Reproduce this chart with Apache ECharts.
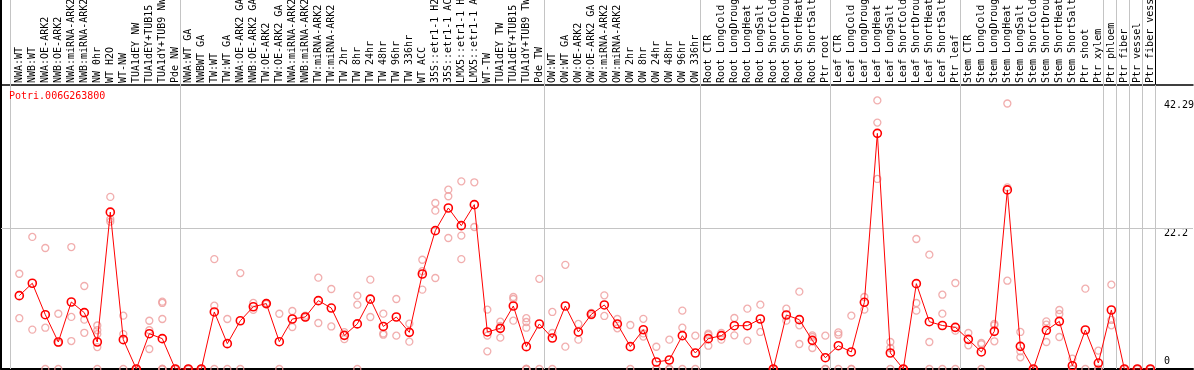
<!DOCTYPE html>
<html><head><meta charset="utf-8">
<script src="https://cdn.jsdelivr.net/npm/echarts@6/dist/echarts.min.js"></script>
<style>html,body{margin:0;padding:0;background:#fff}#c{width:1194px;height:370px}</style>
</head><body><div id="c"></div>
<script>
const geneId = 'Potri.006G263800';

const categories = [
  'NWA:WT','NWB:WT','NWA:OE-ARK2','NWB:OE-ARK2','NWA:miRNA-ARK2','NWB:miRNA-ARK2','NW 0hr','WT H2O','WT-NW',
  'TUA1dEY NW','TUA1dEY+TUB15','TUA1dY+TUB9 NW','Pde NW',
  'NWA:WT GA','NWBWT GA','TW:WT','TW:WT GA','NWA:OE-ARK2 GA','NWB:OE-ARK2 GA','TW:OE-ARK2','TW:OE-ARK2 GA',
  'NWA:miRNA-ARK2','NWB:miRNA-ARK2','TW:miRNA-ARK2','TW:miRNA-ARK2','TW 2hr','TW 8hr','TW 24hr','TW 48hr','TW 96hr',
  'TW 336hr','WT ACC','35S::etr1-1 H2O','35S::etr1-1 ACC','LMX5::etr1-1 H2O','LMX5::etr1-1 ACC','WT-TW','TUA1dEY TW',
  'TUA1dEY+TUB15','TUA1dY+TUB9 TW','Pde TW',
  'OW:WT','OW:WT GA','OW:OE-ARK2','OW:OE-ARK2 GA','OW:miRNA-ARK2','OW:miRNA-ARK2','OW 2hr','OW 8hr','OW 24hr','OW 48hr',
  'OW 96hr','OW 336hr',
  'Root CTR','Root LongCold','Root LongDrought','Root LongHeat','Root LongSalt','Root ShortCold','Root ShortDrought',
  'Root ShortHeat','Root ShortSalt','Ptr root',
  'Leaf CTR','Leaf LongCold','Leaf LongDrought','Leaf LongHeat','Leaf LongSalt','Leaf ShortCold','Leaf ShortDrought',
  'Leaf ShortHeat','Leaf ShortSalt','Ptr leaf',
  'Stem CTR','Stem LongCold','Stem LongDrought','Stem LongHeat','Stem LongSalt','Stem ShortCold','Stem ShortDrought',
  'Stem ShortHeat','Stem ShortSalt','Ptr shoot','Ptr xylem',
  'Ptr phloem','Ptr fiber','Ptr vessel','Ptr fiber vessel'
];

const meanValues = [
  11.55, 13.5, 8.55, 4.25, 10.55, 8.87, 4.25, 24.7, 4.62, 0, 5.56, 4.78, 0,
  0, 0, 8.98, 3.99, 7.6, 9.8, 10.3, 4.3, 7.87, 8.19, 10.76, 9.6, 5.3, 7.1, 11.0, 6.7, 8.19, 5.77,
  14.96, 21.78, 25.35, 22.57, 25.88, 5.83, 6.4, 9.92, 3.52, 7.09,
  4.88, 9.92, 5.83, 8.61, 10.08, 7.09, 3.52, 6.19, 1.1, 1.42, 5.25, 2.52,
  4.78, 5.25, 6.82, 6.82, 7.87, 0, 8.5, 7.77, 4.51, 1.78,
  3.67, 2.68, 10.5, 37.1, 2.52, 0, 13.44, 7.45, 6.85, 6.56,
  4.67, 2.68, 5.93, 28.2, 3.57, 0, 6.09, 7.5, 0.52, 6.14, 0.94,
  9.29, 0, 0, 0
];

const replicates = [
  [15.0, 8.0], [20.8, 6.2], [19.05, 6.5, 0], [8.7, 4.1, 0], [19.2, 8.2, 4.4], [13.07, 7.77, 5.7],
  [6.85, 6.1, 5.5, 3.46, 0], [27.1, 23.6, 23.2], [8.4, 5.5, 0], [0, 0, 0], [7.6, 6.1, 3.15],
  [10.6, 10.4, 7.87, 0, 0, 0], [0, 0, 0],
  [0, 0, 0], [0, 0, 0], [17.3, 9.97, 0], [7.87, 0], [15.1, 0], [10.4, 9.3], [10.4, 10.2], [8.7, 0],
  [9.13, 6.61], [8.4, 8.1], [14.38, 7.24], [12.6, 6.7], [5.8, 4.7], [11.55, 10.13, 0], [14.07, 8.19],
  [8.71, 5.6, 5.4], [11.02, 5.25], [7.14, 4.3], [17.2, 15.4, 12.5], [26.14, 24.93, 14.33],
  [28.24, 27.2, 20.63], [29.55, 21.0, 17.3], [29.4, 22.36], [9.34, 5.25, 2.78], [7.45, 6.8, 4.93],
  [11.34, 11.02, 7.61], [8.0, 7.4, 6.5, 0, 0, 0], [14.2, 0],
  [8.98, 5.67, 0], [16.4, 3.52], [7.09, 4.62], [8.82, 8.45], [11.6, 8.35], [7.87, 6.4], [6.93, 0],
  [7.9, 5.6, 5.1], [3.5, 0, 0], [4.62, 0, 0], [9.19, 6.51, 0], [5.25, 0],
  [5.56, 5.35, 3.67], [5.67, 4.62], [8.03, 5.3], [9.5, 4.46], [10.13, 5.83], [0, 0], [9.5, 7.61],
  [12.18, 6.88, 3.94], [5.3, 5.04, 3.31], [5.25, 0, 0],
  [5.77, 5.4, 0], [8.4, 0, 0], [11.34, 9.34], [42.29, 38.8, 29.92], [4.25, 3.31, 0], [0, 0],
  [20.47, 10.39, 9.19], [18.0, 4.25, 0], [11.7, 8.71, 0], [13.54, 6.04, 0],
  [5.67, 3.73], [4.1, 3.9, 0], [7.09, 6.88, 4.36], [41.8, 28.6, 13.9], [5.83, 2.78, 1.84], [0, 0],
  [7.5, 6.98, 4.25], [9.29, 8.66, 5.04], [1.63, 0, 0], [12.65, 0], [2.89, 0, 0],
  [13.28, 7.72, 6.88], [0, 0], [0, 0], [0, 0]
];

// last category index of each block (separators drawn after them)
const groupEnds = [12, 40, 52, 62, 72, 83, 84, 85, 86, 87];
const tickValues = [0, 22.2, 42.29];
const tickLabels = ['0', '22.2', '42.29'];

const FONT = 'DejaVu Sans Mono';
const xMin = -1.408, xMax = 90.28;
const yMax = 58.1, plotTop = 44.76;
const sepOffset = 0.37, leftLine = -0.72;

function labelFor(v) {
  let best = 0;
  tickValues.forEach((t, i) => { if (Math.abs(t - v) < Math.abs(tickValues[best] - v)) best = i; });
  return tickLabels[best];
}

const repData = [];
replicates.forEach((reps, i) => reps.forEach(v => repData.push([i, v])));
const meanData = meanValues.map((v, i) => [i, v]);

const grey = '#c4c4c4';
const sepLines = [{ xAxis: leftLine }].concat(groupEnds.map(e => ({ xAxis: e + sepOffset })));
sepLines.push({ yAxis: tickValues[1] });

const noLine = { show: false, onZero: false };

const chart = echarts.init(document.getElementById('c'), null, { renderer: 'canvas' });
chart.setOption({
  animation: false,
  backgroundColor: '#ffffff',
  title: {
    text: geneId, left: 9, top: 91, padding: 0,
    textStyle: { color: '#ff0000', fontFamily: FONT, fontSize: 10, fontWeight: 'normal' }
  },
  grid: { left: 1, right: 1, top: 0, bottom: 1, containLabel: false, outerBoundsMode: 'none' },
  xAxis: [
    {
      type: 'value', position: 'top', offset: -85, min: xMin, max: xMax,
      axisLine: { show: true, onZero: false, lineStyle: { color: '#000', width: 1.5 } },
      axisTick: { show: false }, splitLine: { show: false },
      axisLabel: {
        customValues: categories.map((_, i) => i),
        formatter: v => categories[Math.round(v)] || '',
        rotate: -90, margin: 2, fontFamily: FONT, fontSize: 10, color: '#000'
      }
    },
    {
      type: 'value', position: 'bottom', min: xMin, max: xMax,
      axisLine: { show: true, onZero: false, lineStyle: { color: '#000', width: 2 } },
      axisTick: { show: false }, splitLine: { show: false }, axisLabel: { show: false }
    }
  ],
  yAxis: [
    {
      type: 'value', position: 'left', min: 0, max: yMax,
      axisLine: { show: true, onZero: false, lineStyle: { color: '#000', width: 2 } },
      axisTick: { show: false }, splitLine: { show: false }, axisLabel: { show: false }
    },
    {
      type: 'value', position: 'right', offset: -29, min: 0, max: yMax,
      axisLine: noLine, axisTick: { show: false }, splitLine: { show: false },
      axisLabel: {
        customValues: tickValues.filter(v => v > 0), formatter: labelFor,
        verticalAlign: 'top', align: 'left', margin: 0, padding: [0, 0, 0, 0],
        fontFamily: FONT, fontSize: 10, color: '#000'
      }
    },
    {
      type: 'value', position: 'right', offset: -29, min: 0, max: yMax,
      axisLine: noLine, axisTick: { show: false }, splitLine: { show: false },
      axisLabel: {
        customValues: tickValues.filter(v => v === 0), formatter: labelFor,
        verticalAlign: 'bottom', align: 'left', margin: 0, padding: [0, 0, 3, 0],
        fontFamily: FONT, fontSize: 10, color: '#000'
      }
    }
  ],
  series: [
    {
      type: 'scatter', xAxisIndex: 0, yAxisIndex: 0, data: repData, z: 2,
      symbol: 'circle', symbolSize: 7, silent: true,
      itemStyle: { color: 'rgba(0,0,0,0)', borderColor: '#ee9a9a', borderWidth: 1.3 },
      markLine: {
        silent: true, symbol: ['none', 'none'], label: { show: false }, z: 1,
        lineStyle: { color: grey, width: 1, type: 'solid' },
        data: sepLines
      }
    },
    {
      type: 'line', xAxisIndex: 0, yAxisIndex: 0, data: meanData, z: 3,
      symbol: 'circle', symbolSize: 8, showAllSymbol: true, silent: true,
      lineStyle: { color: '#ff0000', width: 1 },
      itemStyle: { color: 'rgba(0,0,0,0)', borderColor: '#ff0000', borderWidth: 1.6 },
      markLine: {
        silent: true, symbol: ['none', 'none'], label: { show: false },
        data: [[
          { coord: [groupEnds[groupEnds.length - 1] + sepOffset, plotTop], lineStyle: { color: '#000', width: 1, type: 'solid' } },
          { coord: [groupEnds[groupEnds.length - 1] + sepOffset, yMax] }
        ]]
      }
    }
  ]
});
</script></body></html>
